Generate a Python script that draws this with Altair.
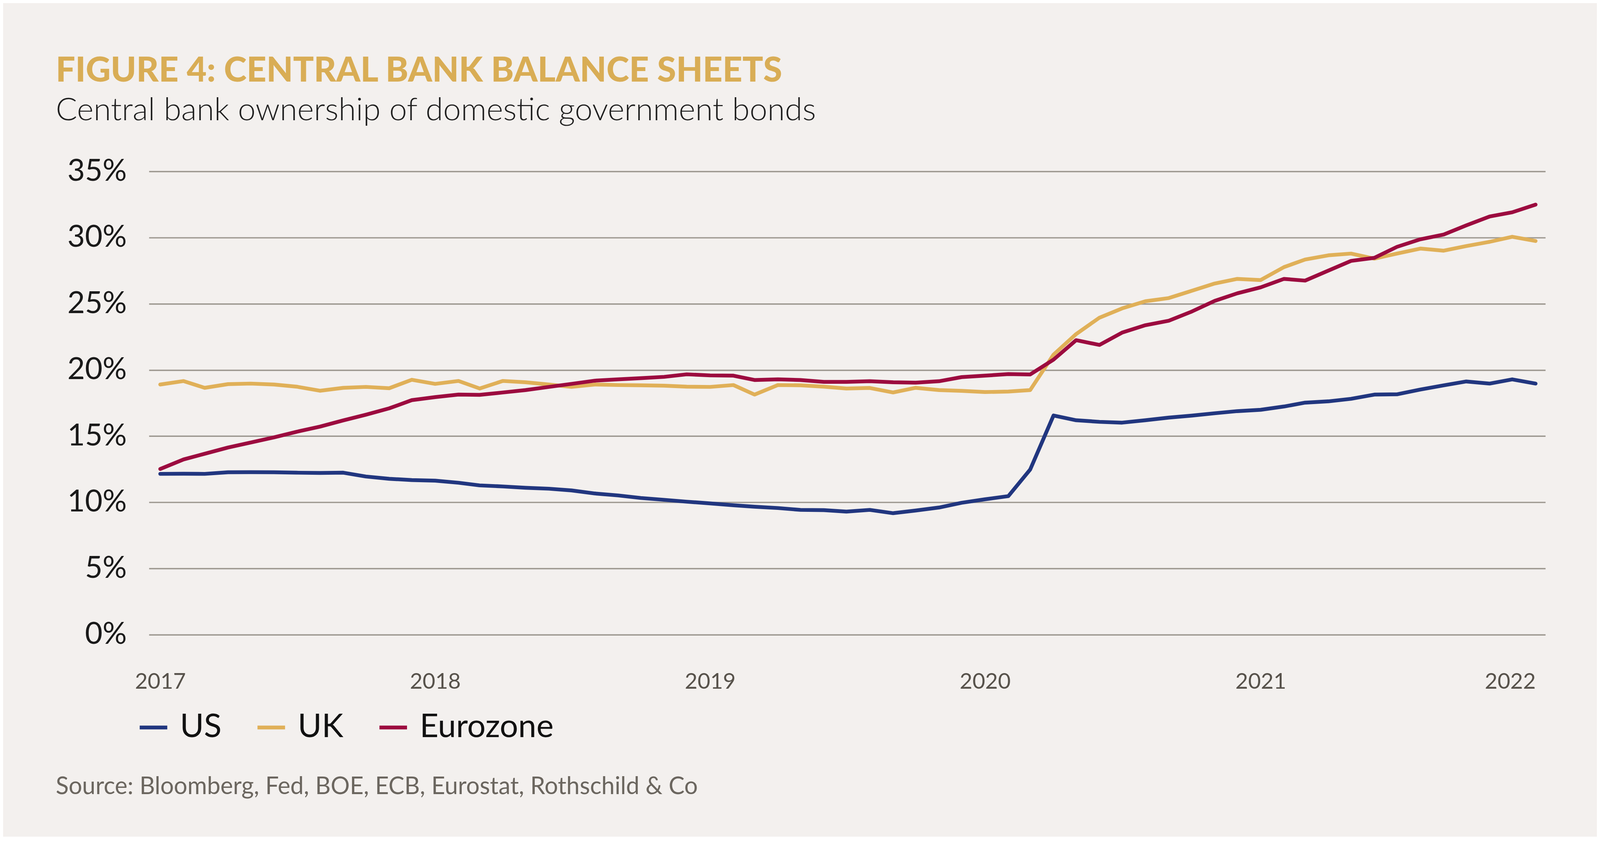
import altair as alt
import pandas as pd

# ---- data (monthly Jan 2017 - Jan 2022) ----
months = pd.date_range("2017-01-01", "2022-01-01", freq="MS").strftime("%Y-%m-%dT00:00:00").tolist()

us = [12.15, 12.16, 12.15, 12.27, 12.28, 12.27, 12.24, 12.22, 12.24, 11.95,
      11.78, 11.68, 11.64, 11.48, 11.28, 11.20, 11.10, 11.03, 10.90, 10.67,
      10.52, 10.33, 10.19, 10.05, 9.92, 9.78, 9.67, 9.57, 9.43, 9.41,
      9.30, 9.43, 9.18, 9.38, 9.61, 9.97, 10.23, 10.47, 12.48, 16.56,
      16.20, 16.08, 16.02, 16.20, 16.40, 16.55, 16.73, 16.89, 16.99, 17.24,
      17.53, 17.63, 17.82, 18.14, 18.16, 18.52, 18.84, 19.13, 18.97, 19.29,
      18.97]

uk = [18.90, 19.16, 18.65, 18.93, 18.97, 18.90, 18.74, 18.43, 18.65, 18.72,
      18.62, 19.26, 18.95, 19.17, 18.60, 19.17, 19.07, 18.90, 18.72, 18.90,
      18.86, 18.84, 18.81, 18.74, 18.72, 18.86, 18.14, 18.86, 18.84, 18.74,
      18.60, 18.64, 18.30, 18.65, 18.48, 18.42, 18.33, 18.37, 18.48, 21.16,
      22.71, 23.95, 24.65, 25.19, 25.43, 25.97, 26.53, 26.88, 26.79, 27.77,
      28.34, 28.66, 28.79, 28.41, 28.79, 29.17, 29.01, 29.36, 29.68, 30.06,
      29.74]

eurozone = [12.52, 13.24, 13.67, 14.14, 14.52, 14.91, 15.33, 15.72, 16.19, 16.62,
            17.10, 17.72, 17.95, 18.14, 18.12, 18.30, 18.48, 18.72, 18.95, 19.19,
            19.29, 19.38, 19.48, 19.67, 19.59, 19.57, 19.24, 19.29, 19.24, 19.10,
            19.10, 19.15, 19.07, 19.04, 19.15, 19.46, 19.57, 19.69, 19.66, 20.78,
            22.25, 21.89, 22.82, 23.38, 23.72, 24.40, 25.22, 25.79, 26.24, 26.88,
            26.75, 27.51, 28.24, 28.47, 29.30, 29.87, 30.23, 30.92, 31.59, 31.91,
            32.49]

series_names = ["US", "UK", "Eurozone"]
series_colors = ["#21367F", "#E0B058", "#9C0B3F"]
y_ticks = [0, 5, 10, 15, 20, 25, 30, 35]

title_text = "FIGURE 4: CENTRAL BANK BALANCE SHEETS"
subtitle_text = "Central bank ownership of domestic government bonds"
source_text = "Source: Bloomberg, Fed, BOE, ECB, Eurostat, Rothschild & Co"

rows = []
for name, vals in zip(series_names, [us, uk, eurozone]):
    for d, v in zip(months, vals):
        rows.append({"date": d, "series": name, "value": v})
df = pd.DataFrame(rows)

W, H = 3687, 1224
BG = "#F3F0EE"
FONT = "Lato"

lines = alt.Chart(df).mark_line(strokeWidth=10, strokeJoin="round", strokeCap="round").encode(
    x=alt.X(
        "date:T",
        scale=alt.Scale(domain=["2016-12-17T00:00:00", "2022-01-14T00:00:00"]),
        axis=alt.Axis(
            title=None,
            format="%Y",
            tickCount=alt.TimeIntervalStep(interval="year", step=1),
            ticks=False,
            domain=False,
            grid=False,
            labelFont=FONT,
            labelFontSize=58,
            labelColor="#57524B",
            labelPadding=96,
            labelAlign=alt.condition("datum.value > datetime(2021, 6, 1)", alt.value("right"), alt.value("center")),
        ),
    ),
    y=alt.Y(
        "value:Q",
        scale=alt.Scale(domain=[0, 35]),
        axis=alt.Axis(
            title=None,
            values=y_ticks,
            labelExpr="datum.value + '%'",
            ticks=False,
            domain=False,
            grid=True,
            gridColor="#9C978F",
            gridWidth=3.5,
            labelFont=FONT,
            labelFontSize=80,
            labelColor="#1A1A1A",
            labelPadding=59,
        ),
    ),
    color=alt.Color(
        "series:N",
        scale=alt.Scale(domain=series_names, range=series_colors),
        sort=series_names,
        legend=alt.Legend(
            title=None,
            orient="none",
            direction="horizontal",
            legendX=-31,
            legendY=1426,
            symbolType="stroke",
            symbolStrokeWidth=10,
            symbolSize=5300,
            labelFont=FONT,
            labelFontSize=86,
            labelColor="#111111",
            labelOffset=27,
            labelLimit=0,
            columnPadding=74,
            padding=0,
        ),
    ),
)

source = alt.Chart(pd.DataFrame({"t": [source_text]})).mark_text(
    align="left", baseline="alphabetic", font=FONT, fontSize=63, color="#6B665F"
).encode(
    text="t:N",
    x=alt.value(-246),
    y=alt.value(1645),
)

chart = alt.layer(lines, source).properties(
    width=W,
    height=H,
    autosize=alt.AutoSizeParams(type="none"),
    padding={"left": 385, "top": 411, "right": 136, "bottom": 500},
    background=BG,
    title=alt.Title(
        text=title_text,
        subtitle=subtitle_text,
        anchor="start",
        frame="group",
        dx=-246,
        offset=77,
        font=FONT,
        fontSize=91,
        fontWeight=900,
        color="#D9AD55",
        subtitleFont=FONT,
        subtitleFontSize=84,
        subtitleFontWeight=300,
        subtitleColor="#1E1E1E",
        subtitlePadding=17,
    ),
).configure_view(stroke=None)

chart.save("out.html", embed_options={"renderer": "svg", "actions": False})
